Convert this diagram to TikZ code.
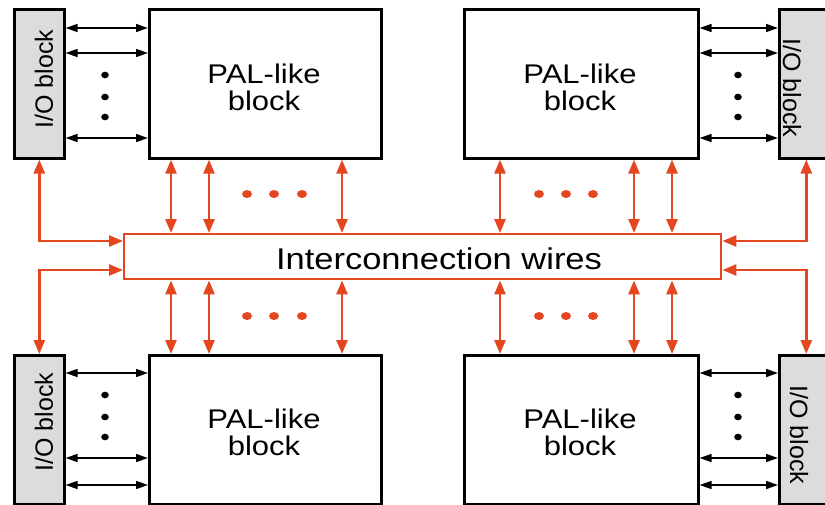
\documentclass[tikz,border=0pt]{standalone}
\usepackage{fontspec}
\setmainfont[FakeStretch=1.15]{Liberation Sans}
\newfontfamily\iofont{Liberation Sans}
\usetikzlibrary{arrows.meta}
\definecolor{wire}{HTML}{E4471F}
\definecolor{iogray}{HTML}{DCDCDC}
\begin{document}
\begin{tikzpicture}[x=1pt,y=-1pt,
  palbox/.style={draw=black, line width=2.6pt, fill=white, minimum width=232pt, minimum height=149pt, anchor=north west, inner sep=0pt},
  iobox/.style={draw=black, line width=2.6pt, fill=iogray, minimum height=149pt, anchor=north west, inner sep=0pt},
  wirebox/.style={draw=wire, line width=2.4pt, fill=white, minimum width=597pt, minimum height=45pt, anchor=north west, inner sep=0pt},
  paltext/.style={align=center, font=\fontsize{27}{27}\selectfont, inner sep=0pt},
  iotext/.style={font=\iofont\fontsize{25}{26}\selectfont, inner sep=0pt},
  bk/.style={draw=black, line width=1.6pt, arrows={Triangle[length=12pt,width=8pt]-Triangle[length=12pt,width=8pt]}},
  orw/.style={draw=wire, line width=2.6pt, arrows={Triangle[length=14pt,width=11pt]-Triangle[length=14pt,width=11pt]}},
  bdot/.style={fill=black, draw=none},
  odot/.style={fill=wire, draw=none}]
\clip (0,0) rectangle (825,504);
\fill[white] (0,0) rectangle (825,504);

% blocks
\node[iobox, minimum width=50pt] (io1) at (13,8) {};
\node[iobox, minimum width=54pt] (io2) at (778,8) {};
\node[iobox, minimum width=50pt] (io3) at (13,354) {};
\node[iobox, minimum width=54pt] (io4) at (778,354) {};
\node[palbox] (pal1) at (148,8) {};
\node[palbox, minimum width=234pt] (pal2) at (463,8) {};
\node[palbox] (pal3) at (148,354) {};
\node[palbox, minimum width=234pt] (pal4) at (463,354) {};
\node[wirebox] (wires) at (123,233) {};

% texts
\node[paltext] (t1) at (264,87) {PAL-like\\block};
\node[paltext] (t2) at (580,87) {PAL-like\\block};
\node[paltext] (t3) at (264,432) {PAL-like\\block};
\node[paltext] (t4) at (580,432) {PAL-like\\block};
\node[font=\fontsize{30}{32}\selectfont, inner sep=0pt] (wt) at (439,259) {Interconnection wires};
\node[iotext, rotate=90] (it1) at (44,79) {I/O block};
\node[iotext, rotate=-90] (it2) at (792,88) {I/O block};
\node[iotext, rotate=90] (it3) at (44,422) {I/O block};
\node[iotext, rotate=-90] (it4) at (799,435) {I/O block};

% black arrows
\foreach \y in {28,53,138} {
  \draw[bk] (io1.east |- 0,\y) -- (pal1.west |- 0,\y);
  \draw[bk] (pal2.east |- 0,\y) -- (io2.west |- 0,\y);
}
\foreach \y in {373,458,485} {
  \draw[bk] (io3.east |- 0,\y) -- (pal3.west |- 0,\y);
  \draw[bk] (pal4.east |- 0,\y) -- (io4.west |- 0,\y);
}
\foreach \y in {75,97,117,395,417,437} {
  \fill[bdot] (105,\y) ellipse [x radius=3.8pt, y radius=3.3pt];
  \fill[bdot] (738,\y) ellipse [x radius=3.8pt, y radius=3.3pt];
}

% orange vertical arrows
\foreach \x in {171,209,342} {
  \draw[orw] (pal1.south -| \x,0) -- (wires.north -| \x,0);
  \draw[orw] (wires.south -| \x,0) -- (pal3.north -| \x,0);
}
\foreach \x in {500,634,672} {
  \draw[orw] (pal2.south -| \x,0) -- (wires.north -| \x,0);
  \draw[orw] (wires.south -| \x,0) -- (pal4.north -| \x,0);
}
\foreach \x in {247,274,302,539,566,593} {
  \fill[odot] (\x,194) ellipse [x radius=5pt, y radius=4pt];
  \fill[odot] (\x,316) ellipse [x radius=5pt, y radius=4pt];
}

% outer orange connections
\draw[orw] (io1.south) |- (wires.west |- 0,241);
\draw[orw] (wires.west |- 0,270) -| (io3.north);
\draw[orw] (io2.south) |- (wires.east |- 0,241);
\draw[orw] (wires.east |- 0,270) -| (io4.north);
\end{tikzpicture}
\end{document}
